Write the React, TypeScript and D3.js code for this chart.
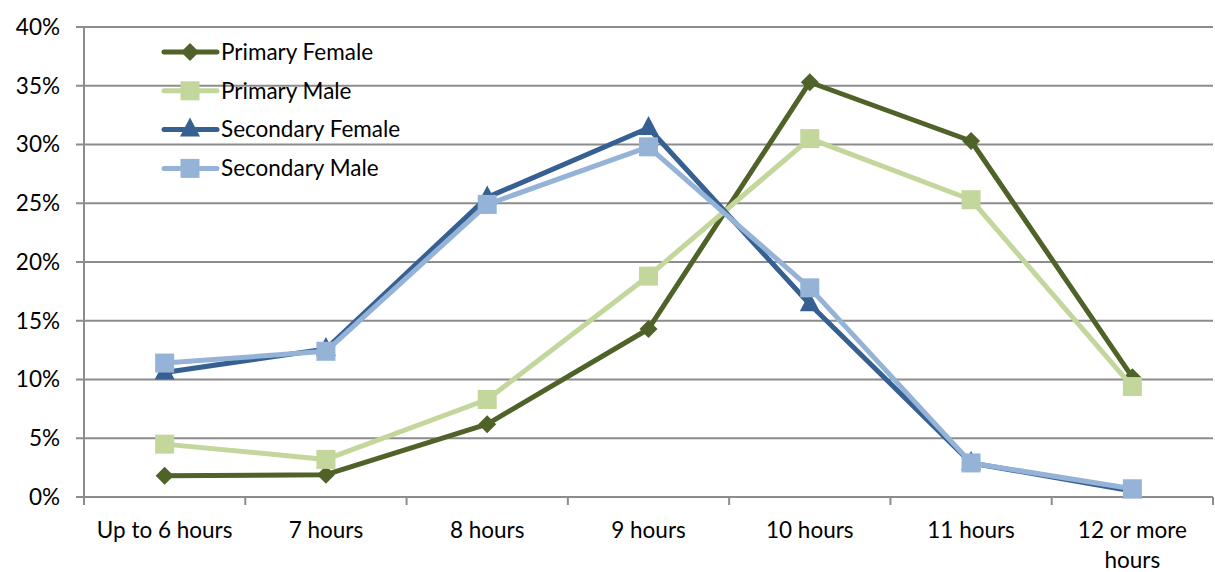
import React from "react";
import * as d3 from "d3";

const categories = ["Up to 6 hours", "7 hours", "8 hours", "9 hours", "10 hours", "11 hours", "12 or more hours"];
const primaryFemale = [1.8, 1.9, 6.2, 14.3, 35.3, 30.3, 10.2];
const primaryMale = [4.5, 3.2, 8.3, 18.8, 30.5, 25.3, 9.4];
const secondaryFemale = [10.6, 12.6, 25.5, 31.4, 16.4, 2.9, 0.5];
const secondaryMale = [11.4, 12.4, 24.9, 29.8, 17.8, 2.9, 0.7];
const yTicks = [0, 5, 10, 15, 20, 25, 30, 35, 40];
const seriesNames = ["Primary Female", "Primary Male", "Secondary Female", "Secondary Male"];

const W = 1215;
const H = 572;
const FONT = "Lato, 'Open Sans', sans-serif";
const FS = 22.5;

type Marker = "diamond" | "square" | "triangle";
const series: { name: string; values: number[]; color: string; marker: Marker }[] = [
  { name: seriesNames[0], values: primaryFemale, color: "#4F6228", marker: "diamond" },
  { name: seriesNames[1], values: primaryMale, color: "#C3D69B", marker: "square" },
  { name: seriesNames[2], values: secondaryFemale, color: "#376092", marker: "triangle" },
  { name: seriesNames[3], values: secondaryMale, color: "#95B3D7", marker: "square" },
];

function MarkerShape({ type, x, y, color }: { type: Marker; x: number; y: number; color: string }) {
  if (type === "diamond") {
    const r = 9;
    return <path d={`M${x},${y - r}L${x + r},${y}L${x},${y + r}L${x - r},${y}Z`} fill={color} />;
  }
  if (type === "square") {
    const s = 19;
    return <rect x={x - s / 2} y={y - s / 2} width={s} height={s} fill={color} />;
  }
  const r = 10;
  return <path d={`M${x},${y - r - 2}L${x + r},${y + r - 3}L${x - r},${y + r - 3}Z`} fill={color} />;
}

export default function App() {
  const left = 84;
  const right = 1213;
  const top = 27;
  const bottom = 497;
  const x = d3.scaleBand<string>().domain(categories).range([left, right]);
  const y = d3.scaleLinear().domain([0, 40]).range([bottom, top]);
  const cx = (c: string) => (x(c) as number) + x.bandwidth() / 2;
  const line = d3
    .line<number>()
    .x((_, i) => cx(categories[i]))
    .y((d) => y(d));

  const tickXs = [...categories.map((c) => x(c) as number), right];

  return (
    <svg width={W} height={H} style={{ position: "absolute", left: 0, top: 0, background: "#fff" }} fontFamily={FONT}>
      {yTicks.map((t) => (
        <g key={t}>
          <line x1={76} x2={right} y1={y(t)} y2={y(t)} stroke="#8C8C8C" strokeWidth={2} />
          <text x={60} y={y(t)} dy="0.35em" textAnchor="end" fontSize={FS} fill="#000">
            {t}%
          </text>
        </g>
      ))}
      <line x1={left} x2={left} y1={top} y2={bottom + 8} stroke="#8C8C8C" strokeWidth={2} />
      {tickXs.map((tx, i) => (
        <line key={i} x1={tx} x2={tx} y1={bottom} y2={bottom + 8} stroke="#8C8C8C" strokeWidth={2} />
      ))}
      {categories.map((c) => {
        const parts = c === "12 or more hours" ? ["12 or more", "hours"] : [c];
        return (
          <text key={c} x={cx(c)} y={538} textAnchor="middle" fontSize={FS} fill="#000">
            {parts.map((p, i) => (
              <tspan key={i} x={cx(c)} dy={i === 0 ? 0 : 30}>
                {p}
              </tspan>
            ))}
          </text>
        );
      })}
      {series.map((s) => (
        <g key={s.name}>
          <path d={line(s.values) || ""} fill="none" stroke={s.color} strokeWidth={5} strokeLinejoin="round" />
          {s.values.map((v, i) => (
            <MarkerShape key={i} type={s.marker} x={cx(categories[i])} y={y(v)} color={s.color} />
          ))}
        </g>
      ))}
      {series.map((s, i) => {
        const ly = 52 + i * 38.8;
        return (
          <g key={s.name}>
            <line x1={164} x2={217} y1={ly} y2={ly} stroke={s.color} strokeWidth={5} strokeLinecap="round" />
            <MarkerShape type={s.marker} x={190} y={ly} color={s.color} />
            <text x={221} y={ly} dy="0.35em" fontSize={FS} fill="#000">
              {s.name}
            </text>
          </g>
        );
      })}
    </svg>
  );
}
